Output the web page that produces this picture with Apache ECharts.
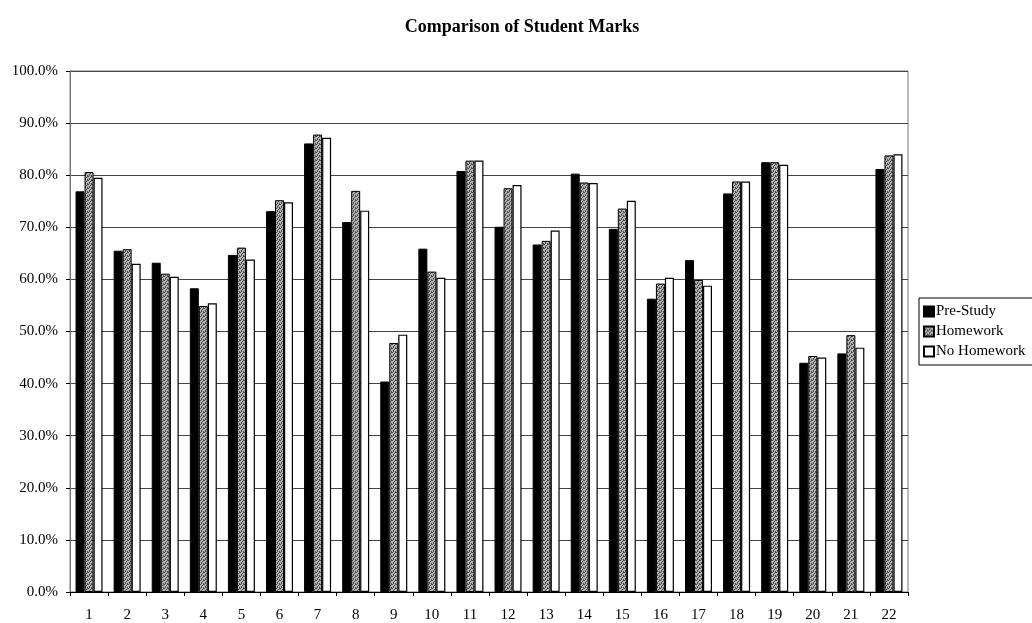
<!DOCTYPE html>
<html>
<head>
<meta charset="utf-8">
<script src="https://cdn.jsdelivr.net/npm/echarts@6/dist/echarts.min.js"></script>
<style>
  html, body { margin: 0; padding: 0; background: #fff; }
  #chart { width: 1032px; height: 623px; }
</style>
</head>
<body>
<div id="chart"></div>
<script>
// Student numbers along the x axis
const students = ['1','2','3','4','5','6','7','8','9','10','11','12','13','14','15','16','17','18','19','20','21','22'];

// Marks (%) for each study condition
const preStudy   = [76.9, 65.5, 63.2, 58.3, 64.7, 73.1, 86.1, 71.0, 40.4, 65.9, 80.8, 70.1, 66.7, 80.3, 69.7, 56.3, 63.7, 76.5, 82.5, 44.0, 45.8, 81.2];
const homework   = [80.6, 65.8, 61.1, 54.9, 66.1, 75.2, 87.8, 77.0, 47.8, 61.5, 82.8, 77.5, 67.4, 78.6, 73.6, 59.2, 59.9, 78.8, 82.5, 45.3, 49.3, 83.8];
const noHomework = [79.5, 63.0, 60.5, 55.4, 63.8, 74.8, 87.2, 73.2, 49.4, 60.3, 82.8, 78.1, 69.4, 78.5, 75.1, 60.3, 58.8, 78.8, 82.0, 45.0, 46.9, 84.0];

// Y axis range and step (%)
const yMin = 0, yMax = 100, yStep = 10;

// Speckled grey fill for the Homework series
function speckle() {
  const c = document.createElement('canvas');
  c.width = 4; c.height = 4;
  const g = c.getContext('2d');
  g.fillStyle = '#b4b4b4';
  g.fillRect(0, 0, 4, 4);
  g.fillStyle = '#4a4a4a';
  [[0,0],[2,1],[1,2],[3,3],[3,0],[1,3]].forEach(p => g.fillRect(p[0], p[1], 1, 1));
  return c;
}

const font = 'Liberation Serif, Times New Roman, serif';
const chart = echarts.init(document.getElementById('chart'));

const barBase = {
  type: 'bar',
  barWidth: 9,
  barGap: '0%',
  animation: false
};

chart.setOption({
  backgroundColor: '#fff',
  textStyle: { fontFamily: font },
  title: {
    text: 'Comparison of Student Marks',
    left: 517, top: 13, textAlign: 'center',
    textStyle: { fontFamily: font, fontSize: 18, fontWeight: 'bold', color: '#000' }
  },
  legend: {
    orient: 'vertical',
    left: 919, top: 298,
    icon: 'rect',
    itemWidth: 10, itemHeight: 10, itemGap: 5,
    padding: [6, 40, 6, 4],
    borderColor: '#000', borderWidth: 1,
    textStyle: { fontFamily: font, fontSize: 15, lineHeight: 15, color: '#000', padding: [0, 0, 0, -3] },
    data: ['Pre-Study', 'Homework', 'No Homework']
  },
  grid: {
    left: 70, right: 124, top: 71, bottom: 29,
    show: true, borderColor: '#777', borderWidth: 1
  },
  xAxis: {
    type: 'category',
    data: students,
    axisLine: { lineStyle: { color: '#000', width: 1 } },
    axisTick: { show: true, length: 4, lineStyle: { color: '#000' } },
    axisLabel: { color: '#000', fontSize: 15, fontFamily: font, margin: 16 }
  },
  yAxis: {
    type: 'value',
    min: yMin, max: yMax, interval: yStep,
    axisLine: { show: true, lineStyle: { color: '#777' } },
    axisTick: { show: true, length: 4, lineStyle: { color: '#000' } },
    axisLabel: {
      color: '#000', fontSize: 15, fontFamily: font, margin: 12,
      formatter: v => v.toFixed(1) + '%'
    },
    splitLine: { lineStyle: { color: '#444', width: 1 } }
  },
  series: [
    Object.assign({}, barBase, {
      name: 'Pre-Study', data: preStudy,
      itemStyle: { color: '#000', borderColor: '#000', borderWidth: 1 }
    }),
    Object.assign({}, barBase, {
      name: 'Homework', data: homework,
      itemStyle: { color: { image: speckle(), repeat: 'repeat' }, borderColor: '#000', borderWidth: 1 }
    }),
    Object.assign({}, barBase, {
      name: 'No Homework', data: noHomework,
      itemStyle: { color: '#fff', borderColor: '#000', borderWidth: 1.2 }
    })
  ]
});
</script>
</body>
</html>
